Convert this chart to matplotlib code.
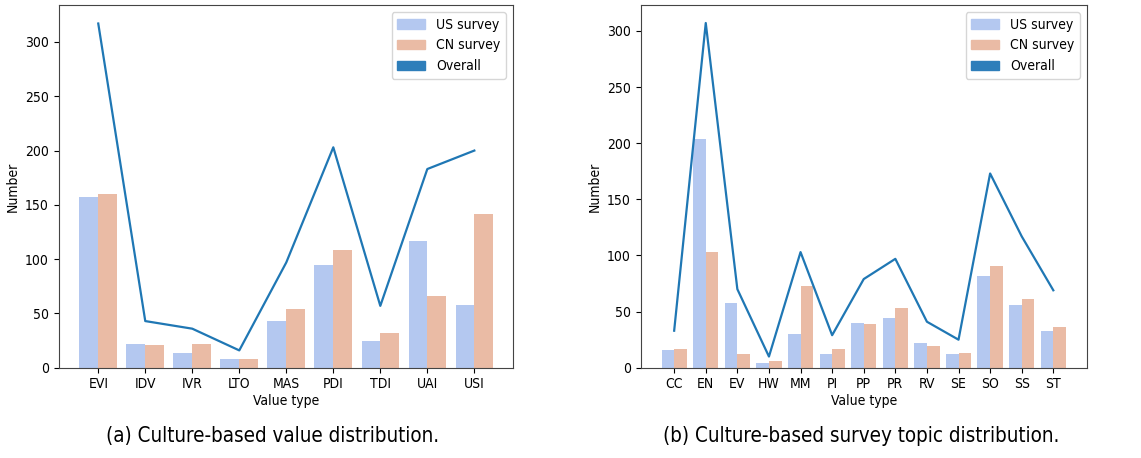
import matplotlib.pyplot as plt
import numpy as np
from matplotlib.patches import Patch

plt.rcParams['font.stretch'] = 'condensed'

# (a) culture-based value distribution
values = ['EVI', 'IDV', 'IVR', 'LTO', 'MAS', 'PDI', 'TDI', 'UAI', 'USI']
values_us = [157, 22, 14, 8, 43, 95, 25, 117, 58]
values_cn = [160, 21, 22, 8, 54, 108, 32, 66, 142]
values_all = [317, 43, 36, 16, 97, 203, 57, 183, 200]

# (b) culture-based survey topic distribution
topics = ['CC', 'EN', 'EV', 'HW', 'MM', 'PI', 'PP', 'PR', 'RV', 'SE', 'SO', 'SS', 'ST']
topics_us = [16, 204, 58, 4, 30, 12, 40, 44, 22, 12, 82, 56, 33]
topics_cn = [17, 103, 12, 6, 73, 17, 39, 53, 19, 13, 91, 61, 36]
topics_all = [33, 307, 70, 10, 103, 29, 79, 97, 41, 25, 173, 117, 69]

us_color = '#b4c8f0'
cn_color = '#eabba5'
line_color = '#1f77b4'

fig = plt.figure(figsize=(11.41, 4.58), dpi=100)
ax1 = fig.add_axes([0.0515, 0.197, 0.398, 0.792])
ax2 = fig.add_axes([0.5615, 0.197, 0.391, 0.792])


def draw(ax, cats, us, cn, total):
    x = np.arange(len(cats))
    w = 0.4
    ax.bar(x - w / 2, us, w, color=us_color)
    ax.bar(x + w / 2, cn, w, color=cn_color)
    ax.plot(x, total, color=line_color, lw=1.6)
    ax.set_xticks(x)
    ax.set_xticklabels(cats)
    ax.set_xlabel('Value type', labelpad=2)
    ax.set_ylabel('Number')
    for s in ax.spines.values():
        s.set_color('#444444')
    handles = [Patch(color=us_color, label='US survey'),
               Patch(color=cn_color, label='CN survey'),
               Patch(color='#2e7eba', label='Overall')]
    ax.legend(handles=handles, loc='upper right', fontsize=10)


draw(ax1, values, values_us, values_cn, values_all)
ax1.set_xlim(-0.84, 8.82)
ax1.set_ylim(0, 334)
draw(ax2, topics, topics_us, topics_cn, topics_all)
ax2.set_xlim(-1.06, 13.06)
ax2.set_ylim(0, 323)

fig.text(0.239, 0.035, '(a) Culture-based value distribution.', ha='center', fontsize=14.8)
fig.text(0.755, 0.035, '(b) Culture-based survey topic distribution.', ha='center', fontsize=14.8)

fig.savefig('out.png', dpi=100)
